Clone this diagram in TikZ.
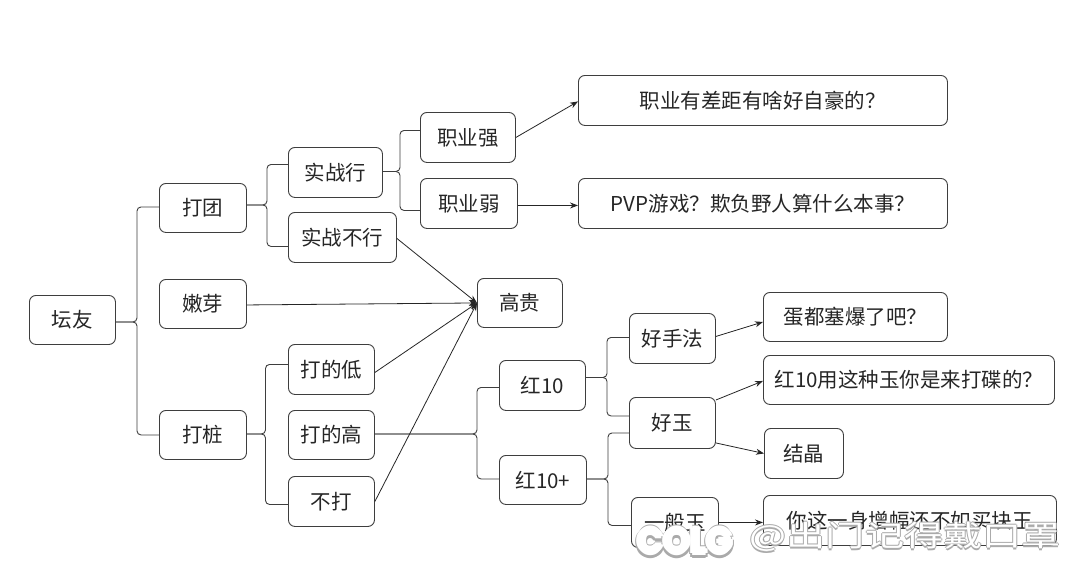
\documentclass[tikz,border=0pt]{standalone}
\usepackage{fontspec}
\setmainfont{Noto Sans CJK SC}
\newfontfamily\logofont{Poppins}[BoldFont={Poppins Bold}]
\usetikzlibrary{calc,arrows.meta}
\definecolor{boxline}{RGB}{62,62,62}
\definecolor{wmgray}{RGB}{170,170,170}
\tikzset{
  bx/.style={draw=boxline,line width=0.9pt,rounded corners=6.5pt,fill=white,inner sep=0pt},
  conn/.style={draw=boxline,line width=0.9pt,rounded corners=4pt},
  arr/.style={draw=black!85,line width=0.8pt,-{Stealth[length=8pt,width=6pt]}},
  lab/.style={font=\fontsize{20.5}{22}\selectfont,text=black!85},
  wmw/.style={font=\fontsize{29}{30}\selectfont,xscale=1.35,text=white,anchor=west},
  wms/.style={font=\fontsize{29}{30}\selectfont,xscale=1.35,text=wmgray,anchor=west},
  lgw/.style={font=\logofont\bfseries\fontsize{36}{40}\selectfont,text=white,anchor=west,xscale=0.95},
  lgs/.style={font=\logofont\bfseries\fontsize{36}{40}\selectfont,text=wmgray,anchor=west,xscale=0.95},
}
% box: name, left, top, right, bottom, label
\newcommand\bxnode[6]{%
  \node[bx,minimum width=#4pt-#2pt,minimum height=#5pt-#3pt,anchor=north west] (#1) at (#2,#3) {};
  \node[lab] (#1t) at (#1) {#6};}
% tree link: parent, parent dy, trunk x, child, child dy
\newcommand\treelink[5]{%
  \draw[conn] let \p1=($(#1.east)+(0,#2)$), \p2=($(#4.west)+(0,#5)$), \p3=(#3,0) in
    (\p1) -- (\x3,\y1) -- (\x3,\y2) -- (\p2);}
\begin{document}
\begin{tikzpicture}[x=1pt,y=-1pt]
\useasboundingbox (0,0) rectangle (1080,582);
\fill[white] (0,0) rectangle (1080,582);
\bxnode{root}{29}{295}{115}{344}{坛友}
\bxnode{tuan}{159}{183}{246}{232}{打团}
\bxnode{nen}{159}{279}{246}{328}{嫩芽}
\bxnode{zhuang}{159}{410}{246}{459}{打桩}
\bxnode{xing}{288}{147}{382}{197}{实战行}
\bxnode{buxing}{288}{212}{396}{262}{实战不行}
\bxnode{qiang}{420}{112}{515}{162}{职业强}
\bxnode{ruo}{420}{178}{517}{228}{职业弱}
\bxnode{q1}{578}{75}{947}{125}{职业有差距有啥好自豪的？}
\bxnode{q2}{578}{178}{947}{228}{PVP游戏？欺负野人算什么本事？}
\bxnode{gao}{477}{278}{562}{327}{高贵}
\bxnode{di}{288}{344}{374}{394}{打的低}
\bxnode{high}{288}{410}{374}{459}{打的高}
\bxnode{buda}{288}{476}{374}{526}{不打}
\bxnode{hong}{499}{360}{585}{410}{红10}
\bxnode{hongp}{499}{455}{586}{504}{红10+}
\bxnode{shou}{629}{313}{715}{363}{好手法}
\bxnode{haoyu}{629}{397}{715}{448}{好玉}
\bxnode{yiban}{631}{497}{718}{547}{一般玉}
\bxnode{dan}{763}{292}{947}{341}{蛋都塞爆了吧？}
\bxnode{dieq}{763}{355}{1054}{404}{红10用这种玉你是来打碟的？}
\bxnode{jing}{764}{428}{843}{478}{结晶}
\bxnode{ni}{763}{495}{1056}{545}{你这一身增幅还不如买块玉}
% tree links
\treelink{root}{2}{137}{tuan}{-1}
\treelink{root}{2}{137}{zhuang}{0}
\treelink{tuan}{-3}{267}{xing}{-8}
\treelink{tuan}{-3}{267}{buxing}{9}
\treelink{xing}{-1}{400}{qiang}{-7}
\treelink{xing}{-1}{400}{ruo}{7}
\treelink{zhuang}{-1}{265.5}{di}{-5}
\treelink{zhuang}{-1}{265.5}{buda}{3}
\treelink{high}{-1}{477}{hong}{2}
\treelink{high}{-1}{477}{hongp}{-1}
\treelink{hong}{-8}{607}{shou}{-1}
\treelink{hong}{-8}{607}{haoyu}{-7}
\treelink{hongp}{-1}{608}{haoyu}{10}
\treelink{hongp}{-1}{608}{yiban}{3}
% arrows
\draw[arr] (qiang.east) -- ($(q1.west)+(0,1)$);
\draw[arr] ($(ruo.east)+(0,2)$) -- ($(q2.west)+(0,2)$);
\draw[arr] ($(buxing.east)+(0,1)$) -- (gao.west);
\draw[arr] ($(nen.east)+(0,1)$) -- (gao.west);
\draw[arr] ($(di.east)+(0,3)$) -- (gao.west);
\draw[arr] (buda.east) -- (gao.west);
\draw[arr] ($(shou.east)+(0,-2)$) -- ($(dan.west)+(0,5)$);
\draw[arr] ($(haoyu.north east)+(0,3)$) -- ($(dieq.west)+(0,1)$);
\draw[arr] ($(haoyu.east)+(0,20)$) -- ($(jing.west)+(0,0)$);
\draw[arr] ($(yiban.east)+(0,0)$) -- ($(ni.west)+(0,2)$);
% watermark
\foreach \dx/\dy in {-1/0,1/0,0/1.5,0/-1}{
  \node[wms] at (745+\dx,537+\dy) {@出门记得戴口罩};
}
\foreach \dx/\dy in {-3/1,3/1,0/4.5,-2/3.5,2/3.5,0/-3}{
  \node[lgs] at (634+\dx,541+\dy) {COLG};
}
\foreach \dx/\dy in {-2/0,2/0,0/2,0/-2}{
  \node[lgw] at (634+\dx,541+\dy) {COLG};
}
\node[wmw] (wm) at (745,537) {@出门记得戴口罩};
\node[lgw] (logo) at (634,541) {COLG};
\end{tikzpicture}
\end{document}
